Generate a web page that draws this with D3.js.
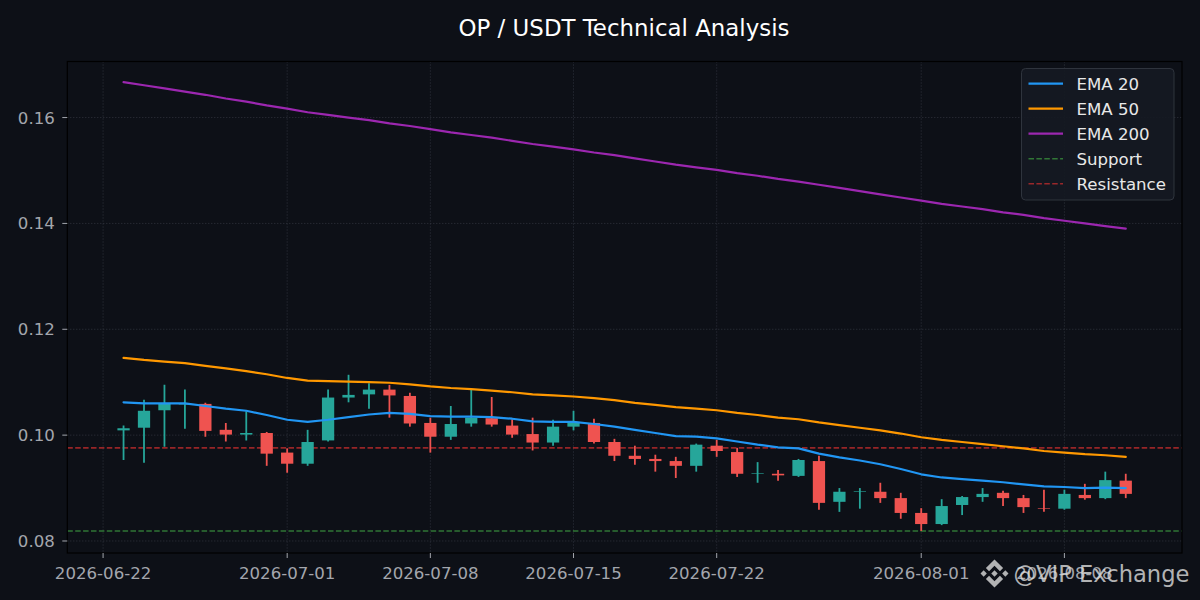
<!DOCTYPE html>
<html><head><meta charset="utf-8">
<script src="https://cdn.jsdelivr.net/npm/d3@7"></script>
<style>
html,body{margin:0;padding:0;background:#0d1017;}
svg{display:block;font-family:"DejaVu Sans",sans-serif;}
</style>
</head><body>
<svg id="chart" width="1200" height="600"></svg>
<script>
// ---------- data ----------
const dates = ["2026-06-23","2026-06-24","2026-06-25","2026-06-26","2026-06-27","2026-06-28","2026-06-29","2026-06-30",
"2026-07-01","2026-07-02","2026-07-03","2026-07-04","2026-07-05","2026-07-06","2026-07-07","2026-07-08","2026-07-09","2026-07-10",
"2026-07-11","2026-07-12","2026-07-13","2026-07-14","2026-07-15","2026-07-16","2026-07-17","2026-07-18","2026-07-19","2026-07-20",
"2026-07-21","2026-07-22","2026-07-23","2026-07-24","2026-07-25","2026-07-26","2026-07-27","2026-07-28","2026-07-29","2026-07-30",
"2026-07-31","2026-08-01","2026-08-02","2026-08-03","2026-08-04","2026-08-05","2026-08-06","2026-08-07","2026-08-08","2026-08-09",
"2026-08-10","2026-08-11"];
const openP  = [0.1009,0.1014,0.1047,0.1058,0.1059,0.1010,0.1001,0.1004,0.0967,0.0946,
                0.0990,0.1071,0.1077,0.1086,0.1074,0.1023,0.0997,0.1022,0.1032,0.1018,
                0.1002,0.0986,0.1016,0.1023,0.0987,0.0961,0.0955,0.0951,0.0942,0.0980,
                0.0968,0.0927,0.0927,0.0923,0.0951,0.0874,0.0893,0.0893,0.0881,0.0853,
                0.0832,0.0868,0.0883,0.0891,0.0881,0.0862,0.0861,0.0887,0.0881,0.0914];
const highP  = [0.1018,0.1067,0.1095,0.1086,0.1061,0.1023,0.1045,0.1006,0.0975,0.1010,
                0.1086,0.1114,0.1098,0.1095,0.1080,0.1033,0.1055,0.1086,0.1072,0.1030,
                0.1033,0.1029,0.1046,0.1031,0.0993,0.0980,0.0963,0.0959,0.0984,0.0991,
                0.0976,0.0949,0.0934,0.0955,0.0961,0.0900,0.0900,0.0910,0.0891,0.0862,
                0.0879,0.0885,0.0900,0.0895,0.0887,0.0897,0.0897,0.0908,0.0931,0.0927];
const lowP   = [0.0953,0.0948,0.0978,0.1012,0.0997,0.0988,0.0990,0.0942,0.0929,0.0942,
                0.0988,0.1062,0.1050,0.1033,0.1016,0.0967,0.0991,0.1016,0.1016,0.0995,
                0.0971,0.0980,0.1009,0.0984,0.0951,0.0944,0.0931,0.0919,0.0931,0.0959,
                0.0921,0.0910,0.0914,0.0921,0.0859,0.0855,0.0861,0.0872,0.0842,0.0819,
                0.0830,0.0849,0.0874,0.0866,0.0853,0.0855,0.0859,0.0878,0.0879,0.0881];
const closeP = [0.1013,0.1046,0.1059,0.1060,0.1008,0.1001,0.1004,0.0965,0.0946,0.0987,
                0.1071,0.1076,0.1086,0.1075,0.1022,0.0997,0.1021,0.1033,0.1020,0.1001,
                0.0986,0.1016,0.1025,0.0987,0.0961,0.0955,0.0951,0.0942,0.0982,0.0970,
                0.0927,0.0928,0.0924,0.0953,0.0872,0.0893,0.0894,0.0881,0.0853,0.0832,
                0.0866,0.0883,0.0889,0.0881,0.0864,0.0861,0.0889,0.0881,0.0915,0.0889];
const ema20  = [0.1062,0.1060,0.1060,0.1060,0.1055,0.1050,0.1046,0.1038,0.1029,0.1025,
                0.1029,0.1034,0.1039,0.1042,0.1040,0.1036,0.1035,0.1035,0.1034,0.1031,
                0.1026,0.1025,0.1025,0.1021,0.1016,0.1010,0.1004,0.0998,0.0997,0.0994,
                0.0988,0.0982,0.0977,0.0975,0.0965,0.0958,0.0952,0.0945,0.0936,0.0926,
                0.0920,0.0917,0.0914,0.0911,0.0907,0.0903,0.0902,0.0900,0.0901,0.0900];
const ema50  = [0.1146,0.1142,0.1139,0.1136,0.1131,0.1126,0.1121,0.1115,0.1108,0.1103,
                0.1102,0.1101,0.1100,0.1099,0.1096,0.1092,0.1089,0.1087,0.1084,0.1081,
                0.1077,0.1075,0.1073,0.1070,0.1066,0.1061,0.1057,0.1053,0.1050,0.1047,
                0.1042,0.1038,0.1033,0.1030,0.1024,0.1019,0.1014,0.1009,0.1003,0.0996,
                0.0991,0.0987,0.0983,0.0979,0.0975,0.0970,0.0967,0.0964,0.0962,0.0959];
const ema200 = [0.1667,0.1661,0.1655,0.1649,0.1643,0.1636,0.1630,0.1623,0.1617,0.1610,
                0.1605,0.1600,0.1595,0.1589,0.1584,0.1578,0.1572,0.1567,0.1562,0.1556,
                0.1550,0.1545,0.1540,0.1534,0.1529,0.1523,0.1517,0.1511,0.1506,0.1501,
                0.1495,0.1490,0.1484,0.1479,0.1473,0.1467,0.1461,0.1455,0.1449,0.1443,
                0.1437,0.1432,0.1427,0.1421,0.1416,0.1410,0.1405,0.1400,0.1395,0.1390];
const supportLevel = 0.0819;
const resistanceLevel = 0.0976;
const yTicks = [0.08,0.10,0.12,0.14,0.16];
const xTickLabels = ["2026-06-22","2026-07-01","2026-07-08","2026-07-15","2026-07-22","2026-08-01","2026-08-08"];
const titleText = "OP / USDT Technical Analysis";
const legendLabels = ["EMA 20","EMA 50","EMA 200","Support","Resistance"];

// ---------- layout ----------
const W = 1200, H = 600;
const plot = {l: 67.3, r: 1182, t: 61.5, b: 553};
const DAY = 86400000;
const parse = d3.utcParse("%Y-%m-%d");
const t = dates.map(parse);
const x = d3.scaleUtc()
  .domain([+t[0] - 2.75*DAY, +t[t.length-1] + 2.75*DAY])
  .range([plot.l, plot.r]);
const y = d3.scaleLinear().domain([0.07773, 0.17059]).range([plot.b, plot.t]);

const col = {
  bg: "#0d1017", up: "#26a69a", down: "#ef5350",
  e20: "#2196f3", e50: "#ff9800", e200: "#9c27b0",
  sup: "#388e3c", res: "#d32f2f", tick: "#a3a6ad", grid: "#3a3e47"
};

const svg = d3.select("#chart");
svg.append("rect").attr("width", W).attr("height", H).attr("fill", col.bg);
svg.append("rect").attr("x", plot.l).attr("y", plot.t)
  .attr("width", plot.r - plot.l).attr("height", plot.b - plot.t).attr("fill", col.bg);

svg.append("defs").append("clipPath").attr("id", "clip")
  .append("rect").attr("x", plot.l).attr("y", plot.t)
  .attr("width", plot.r - plot.l).attr("height", plot.b - plot.t);

// grid
const grid = svg.append("g").attr("clip-path", "url(#clip)");
const xTickDates = xTickLabels.map(parse);
grid.selectAll("line.gx").data(xTickDates).join("line")
  .attr("x1", d => x(d)).attr("x2", d => x(d))
  .attr("y1", plot.t).attr("y2", plot.b)
  .attr("stroke", col.grid).attr("stroke-width", 0.8).attr("stroke-dasharray", "1,2");
grid.selectAll("line.gy").data(yTicks).join("line")
  .attr("x1", plot.l).attr("x2", plot.r)
  .attr("y1", d => y(d)).attr("y2", d => y(d))
  .attr("stroke", col.grid).attr("stroke-width", 0.8).attr("stroke-dasharray", "1,2");

const g = svg.append("g").attr("clip-path", "url(#clip)");

// support / resistance
g.append("line").attr("x1", plot.l).attr("x2", plot.r)
  .attr("y1", y(supportLevel)).attr("y2", y(supportLevel))
  .attr("stroke", col.sup).attr("stroke-opacity", 0.8).attr("stroke-width", 1.6).attr("stroke-dasharray", "5.5,2.4");
g.append("line").attr("x1", plot.l).attr("x2", plot.r)
  .attr("y1", y(resistanceLevel)).attr("y2", y(resistanceLevel))
  .attr("stroke", col.res).attr("stroke-opacity", 0.7).attr("stroke-width", 1.6).attr("stroke-dasharray", "5.5,2.4");

// candles
const idx = d3.range(dates.length);
const bw = x(+t[0] + 0.3*DAY) - x(+t[0] - 0.3*DAY);
const colorOf = i => closeP[i] >= openP[i] ? col.up : col.down;
g.selectAll("line.wick").data(idx).join("line")
  .attr("x1", i => x(t[i])).attr("x2", i => x(t[i]))
  .attr("y1", i => y(highP[i])).attr("y2", i => y(lowP[i]))
  .attr("stroke", colorOf).attr("stroke-width", 1.8);
g.selectAll("rect.body").data(idx).join("rect")
  .attr("x", i => x(t[i]) - bw/2)
  .attr("y", i => y(Math.max(openP[i], closeP[i])))
  .attr("width", bw)
  .attr("height", i => Math.max(0.6, Math.abs(y(openP[i]) - y(closeP[i]))))
  .attr("fill", colorOf);

// EMA lines
const line = arr => d3.line().x((d, i) => x(t[i])).y(d => y(d))(arr);
[[ema200, col.e200], [ema50, col.e50], [ema20, col.e20]].forEach(([arr, c]) => {
  g.append("path").attr("d", line(arr)).attr("fill", "none")
    .attr("stroke", c).attr("stroke-width", 2.2).attr("stroke-linejoin", "round").attr("stroke-linecap", "round");
});

// frame
svg.append("rect").attr("x", plot.l).attr("y", plot.t)
  .attr("width", plot.r - plot.l).attr("height", plot.b - plot.t)
  .attr("fill", "none").attr("stroke", "#000").attr("stroke-width", 1.2);

// axes
const yAxis = svg.append("g");
yAxis.selectAll("line").data(yTicks).join("line")
  .attr("x1", plot.l - 5).attr("x2", plot.l).attr("y1", d => y(d)).attr("y2", d => y(d))
  .attr("stroke", col.tick).attr("stroke-width", 1);
yAxis.selectAll("text").data(yTicks).join("text")
  .attr("x", plot.l - 12.5).attr("y", d => y(d)).attr("dy", "0.36em")
  .attr("text-anchor", "end").attr("fill", col.tick).attr("font-size", "16.6px")
  .text(d => d3.format(".2f")(d));

const xAxis = svg.append("g");
xAxis.selectAll("line").data(xTickDates).join("line")
  .attr("x1", d => x(d)).attr("x2", d => x(d)).attr("y1", plot.b).attr("y2", plot.b + 5)
  .attr("stroke", col.tick).attr("stroke-width", 1);
xAxis.selectAll("text").data(xTickLabels).join("text")
  .attr("x", (d, i) => x(xTickDates[i])).attr("y", 578.5)
  .attr("text-anchor", "middle").attr("fill", col.tick).attr("font-size", "16.6px")
  .text(d => d);

// title
svg.append("text").attr("x", 624).attr("y", 35.5).attr("text-anchor", "middle")
  .attr("fill", "#ffffff").attr("font-size", "22.9px").text(titleText);

// legend
const lg = svg.append("g");
lg.append("rect").attr("x", 1021.5).attr("y", 68.5).attr("width", 152.5).attr("height", 131.5)
  .attr("rx", 4).attr("fill", "#151a22").attr("fill-opacity", 0.9).attr("stroke", "#2f343d").attr("stroke-width", 1);
const legendStyles = [
  {c: col.e20, dash: null, op: 1},
  {c: col.e50, dash: null, op: 1},
  {c: col.e200, dash: null, op: 1},
  {c: col.sup, dash: "5.5,2.4", op: 0.8},
  {c: col.res, dash: "5.5,2.4", op: 0.7}
];
legendLabels.forEach((lab, i) => {
  const yy = 83.7 + 25 * i;
  const s = legendStyles[i];
  lg.append("line").attr("x1", 1028.5).attr("x2", 1063).attr("y1", yy).attr("y2", yy)
    .attr("stroke", s.c).attr("stroke-opacity", s.op)
    .attr("stroke-width", s.dash ? 1.6 : 2.2).attr("stroke-dasharray", s.dash);
  lg.append("text").attr("x", 1076.5).attr("y", yy).attr("dy", "0.36em")
    .attr("fill", "#e8e8e8").attr("font-size", "16.6px").text(lab);
});

// watermark
const wm = svg.append("g").attr("opacity", 0.8);
const logo = wm.append("g").attr("transform", "translate(980.5,559.5) scale(" + (28/126.61) + ")").attr("fill", "#dcdcdc");
[
  "38.73,53.2 63.3,28.64 87.89,53.22 102.19,38.92 63.3,0 24.42,38.9",
  "0,63.31 14.3,49.01 28.6,63.31 14.3,77.61",
  "38.73,73.41 63.3,97.97 87.89,73.39 102.19,87.69 63.3,126.61 24.42,87.72",
  "98.01,63.31 112.31,49.01 126.61,63.31 112.31,77.61",
  "77.83,63.3 63.3,48.78 48.78,63.29 63.3,77.82"
].forEach(p => logo.append("polygon").attr("points", p));
wm.append("text").attr("x", 1013.5).attr("y", 582).attr("fill", "#dcdcdc")
  .attr("font-size", "22.6px").text("@VIP Exchange");
</script>
</body></html>
